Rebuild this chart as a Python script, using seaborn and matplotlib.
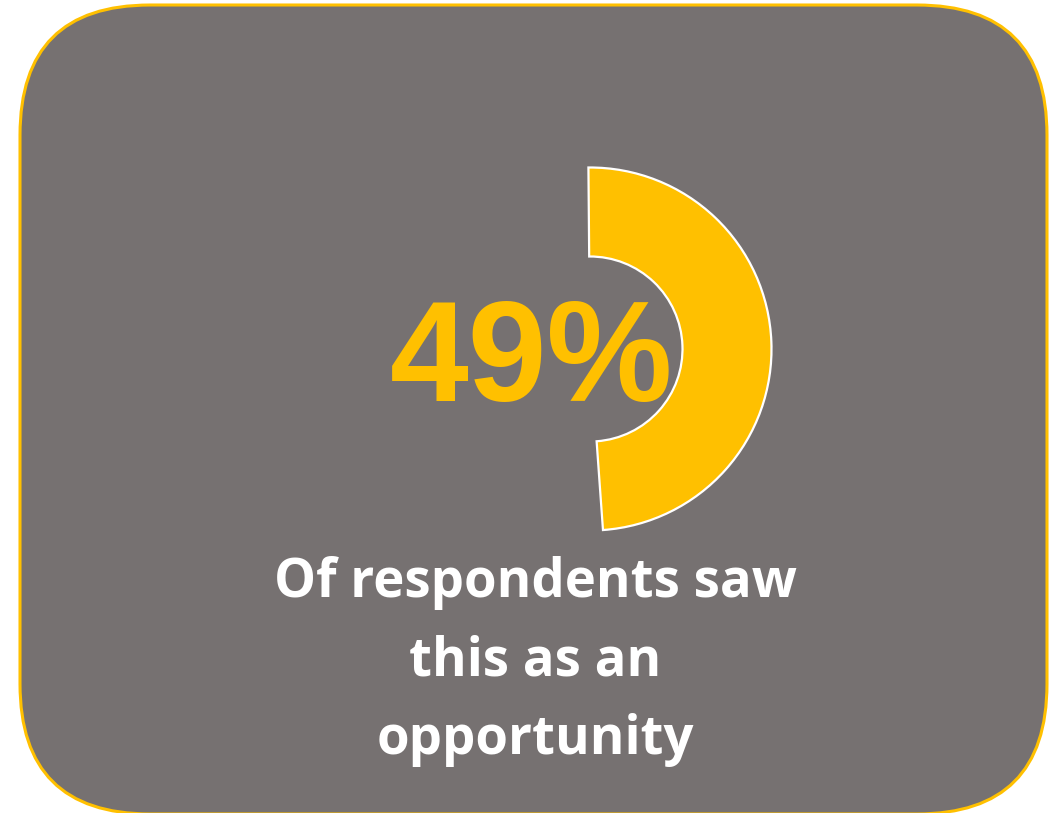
import matplotlib
matplotlib.use("Agg")
import matplotlib.pyplot as plt
from matplotlib.patches import FancyBboxPatch
import seaborn as sns

# Data
categories = ["Opportunity", "Other"]
shares = [49, 51]
big_label = "49%"
caption_lines = ["Of respondents saw", "this as an", "opportunity"]

GRAY = "#767171"
YELLOW = "#FFC000"

sns.set_theme(style="white")
plt.rcParams['font.family'] = ['DejaVu Sans']

W, H = 1063, 813
fig = plt.figure(figsize=(W / 100, H / 100), dpi=100)
fig.patch.set_facecolor("white")
ax = fig.add_axes([0, 0, 1, 1])

# rounded background panel
rad = 130
panel = FancyBboxPatch((20 + rad, -1 + rad), (1047 - 20) - 2 * rad, (808 + 1) - 2 * rad,
                       boxstyle=f"round,pad={rad}", facecolor=GRAY, edgecolor=YELLOW,
                       linewidth=2.2, zorder=1)
ax.add_patch(panel)

# donut segment
cx, cy = 590, H - 349
R = 181.5
wedges, _ = ax.pie(shares, startangle=90.5, counterclock=False, center=(cx, cy), radius=R,
                   colors=[YELLOW, "none"],
                   wedgeprops=dict(width=89, edgecolor="white", linewidth=1.6),
                   frame=True)
wedges[1].set_edgecolor("none")
for w in wedges:
    w.set_zorder(2)

ax.text(532, H - 401, big_label, ha="center", va="baseline", color=YELLOW,
        fontsize=102, fontweight="bold", family=["Liberation Sans"], zorder=3)

baselines = [597, 675, 754]
for line, yb in zip(caption_lines, baselines):
    ax.text(535, H - yb, line, ha="center", va="baseline", color="white",
            fontsize=38, fontweight="bold", family=["Open Sans"], zorder=3)

ax.set_xlim(0, W)
ax.set_ylim(0, H)
ax.set_aspect("equal")
ax.axis("off")
sns.despine(ax=ax, left=True, bottom=True)

fig.savefig("out.png", dpi=100, facecolor="white")
